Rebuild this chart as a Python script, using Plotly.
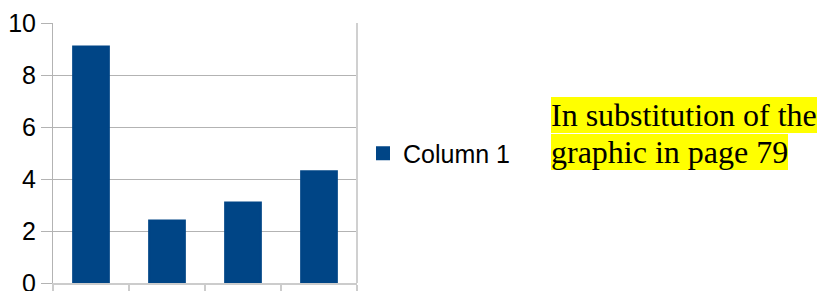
import plotly.graph_objects as go

categories = ["Row 1", "Row 2", "Row 3", "Row 4"]
values = [9.1, 2.4, 3.1, 4.3]
series_name = "Column 1"
y_ticks = [0, 2, 4, 6, 8, 10]
note_lines = ["In substitution of the", "graphic in page 79"]

W, H = 817, 291
L, R, T, B = 53, 460, 23, 8
pw = W - L - R
ph = H - T - B

fig = go.Figure()
fig.add_trace(go.Bar(
    x=categories, y=values, name=series_name,
    marker=dict(color="#004586", line=dict(width=2, color="#004586")),
    width=0.47,
))

fig.update_layout(
    width=W, height=H,
    margin=dict(l=L, r=R, t=T, b=B, pad=0),
    paper_bgcolor="white", plot_bgcolor="white",
    font=dict(family="Liberation Sans, Arial, sans-serif", size=25, color="#000000"),
    showlegend=True,
    legend=dict(
        x=(363 - L) / pw, y=1 - (153.5 - T) / ph, xanchor="left", yanchor="middle",
        font=dict(size=25, family="Liberation Sans, Arial, sans-serif", color="#000000"),
        bgcolor="rgba(0,0,0,0)", borderwidth=0, itemwidth=30,
    ),
)

fig.update_yaxes(
    range=[0, 10], tickvals=y_ticks, ticktext=[str(v) for v in y_ticks],
    showgrid=True, gridcolor="#b3b3b3", gridwidth=1,
    showline=True, linecolor="#b3b3b3", linewidth=1,
    ticks="outside", ticklen=11, tickcolor="#b3b3b3", tickwidth=1,
    zeroline=False, automargin=False, ticklabeloverflow="allow",
    tickfont=dict(size=25, family="Liberation Sans, Arial, sans-serif", color="#000000"),
)
fig.update_xaxes(
    type="category", tickson="boundaries",
    showticklabels=False, showgrid=False,
    showline=True, linecolor="#cccccc", linewidth=2,
    ticks="outside", ticklen=10, tickcolor="#cccccc", tickwidth=2,
    zeroline=False, automargin=False,
)

fig.add_shape(type="line", xref="paper", yref="paper", x0=1, x1=1, y0=0, y1=1,
              line=dict(color="#d0d0d0", width=2))

line_h = 37.4
for i, txt in enumerate(note_lines):
    cy = 115 + i * line_h
    fig.add_annotation(
        xref="paper", yref="paper",
        x=(551 - L) / pw, y=1 - (cy - T) / ph,
        xanchor="left", yanchor="middle",
        text=txt, showarrow=False,
        font=dict(family="Liberation Serif, Times New Roman, serif", size=32, color="#000000"),
        bgcolor="#ffff00", borderpad=0, borderwidth=0,
    )

fig.write_html(
    "out.html",
    config={"displayModeBar": False},
    post_script="document.body.style.margin='0';document.body.style.overflow='hidden';",
)
